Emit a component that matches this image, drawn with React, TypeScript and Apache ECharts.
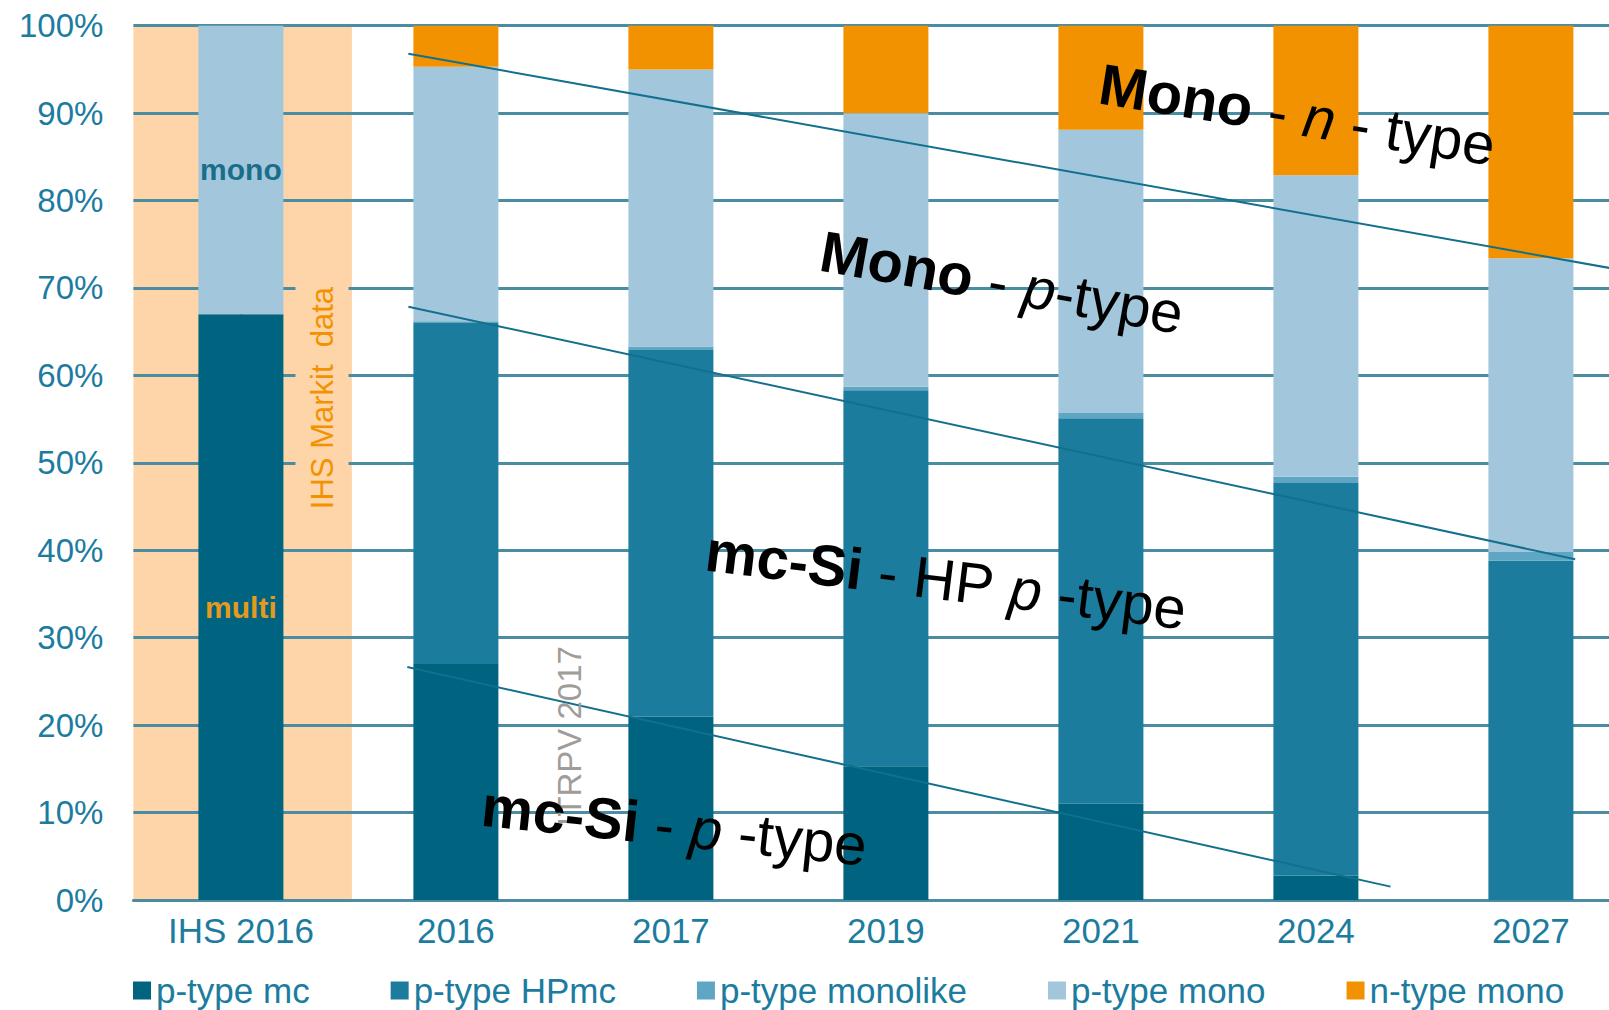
import React, { useEffect, useRef } from 'react';
import * as echarts from 'echarts';

const categories = ['IHS 2016', '2016', '2017', '2019', '2021', '2024', '2027'];
const pTypeMc = [67, 27, 21, 15.3, 11, 2.8, 0];
const pTypeHPmc = [0, 39, 41.9, 43, 44.1, 44.9, 38.8];
const pTypeMonolike = [0, 0.2, 0.4, 0.4, 0.6, 0.7, 1.0];
const pTypeMono = [33, 29.1, 31.7, 31.3, 32.4, 34.5, 33.6];
const nTypeMono = [0, 4.7, 5.0, 10.0, 11.9, 17.1, 26.6];
const ihsBackground = [100, null, null, null, null, null, null];
const ihsLabels = { mono: 'mono', multi: 'multi' };

// trend lines: [category position, percent]
const trendNType = [[0.779, 96.8], [6.5, 71.7]];
const trendPType = [[0.779, 67.85], [6.206, 38.97]];
const trendMcSi = [[0.774, 26.65], [5.347, 1.53]];

const FONT = '"Liberation Sans", Arial, sans-serif';
const TEAL_TEXT = '#1C7CA0';
const GRID_COLOR = '#4A8DA3';

const colors = {
  mc: '#00637F',
  hpmc: '#1B7C9D',
  monolike: '#5FA6C4',
  mono: '#A2C7DC',
  n: '#F39200',
  peach: '#FDD5A9',
};

const rich = {
  b: { fontWeight: 'bold', fontSize: 58, fontFamily: FONT, fill: '#000' },
  r: { fontSize: 58, fontFamily: FONT, fill: '#000' },
  i: { fontStyle: 'italic', fontSize: 58, fontFamily: FONT, fill: '#000' },
};

function bigText(x: number, y: number, deg: number, text: string) {
  return {
    type: 'text',
    x,
    y,
    rotation: (-deg * Math.PI) / 180,
    z: 10,
    style: {
      text,
      rich,
      align: 'left',
      verticalAlign: 'middle',
      fill: '#000',
      fontSize: 58,
      fontFamily: FONT,
    },
  };
}

export default function App() {
  const ref = useRef<HTMLDivElement>(null);

  useEffect(() => {
    if (!ref.current) return;
    const chart = echarts.init(ref.current, null, { renderer: 'svg' });

    const labelFor = (text: string, color: string) => ({
      show: true,
      position: 'inside',
      formatter: text,
      color,
      fontWeight: 'bold',
      fontSize: 30,
      fontFamily: FONT,
    });

    const mcData = pTypeMc.map((v, i) =>
      i === 0 ? { value: v, label: labelFor(ihsLabels.multi, '#E39A1E') } : v
    );
    const monoData = pTypeMono.map((v, i) =>
      i === 0 ? { value: v, label: labelFor(ihsLabels.mono, '#1A6E8A') } : v
    );

    const barCommon = {
      type: 'bar',
      stack: 'total',
      barWidth: 85,
      xAxisIndex: 0,
      yAxisIndex: 0,
      z: 2,
    };

    const lineCommon = {
      type: 'line',
      xAxisIndex: 2,
      yAxisIndex: 0,
      symbol: 'none',
      silent: true,
      z: 3,
      lineStyle: { color: '#12708E', width: 2 },
    };

    chart.setOption({
      animation: false,
      backgroundColor: '#fff',
      grid: {
        left: 133.4,
        top: 25.7,
        right: -29.4,
        bottom: 110,
        containLabel: false,
        outerBoundsMode: 'none',
      },
      legend: {
        data: ['p-type mc', 'p-type HPmc', 'p-type monolike', 'p-type mono', 'n-type mono'],
        left: 133,
        top: 973,
        padding: 0,
        icon: 'rect',
        itemWidth: 18,
        itemHeight: 18,
        itemGap: 81,
        textStyle: { fontSize: 35, color: TEAL_TEXT, fontFamily: FONT },
      },
      xAxis: [
        {
          type: 'category',
          data: categories,
          z: 1,
          axisLine: { show: true, lineStyle: { color: GRID_COLOR, width: 3 } },
          axisTick: { show: false },
          splitLine: { show: false },
          axisLabel: { fontSize: 35, color: TEAL_TEXT, fontFamily: FONT, margin: 13 },
        },
        { type: 'category', data: categories, show: false },
        { type: 'value', min: -0.5, max: 6.5, show: false },
      ],
      yAxis: {
        type: 'value',
        min: 0,
        max: 100,
        interval: 10,
        z: 1,
        axisLine: { show: true, lineStyle: { color: GRID_COLOR, width: 3 } },
        axisTick: { show: false },
        splitLine: { show: true, lineStyle: { color: GRID_COLOR, width: 3 } },
        axisLabel: {
          formatter: '{value}%',
          fontSize: 33,
          color: TEAL_TEXT,
          fontFamily: FONT,
          margin: 30,
        },
      },
      series: [
        {
          name: 'IHS background',
          type: 'bar',
          xAxisIndex: 1,
          yAxisIndex: 0,
          data: ihsBackground,
          barWidth: 222,
          silent: true,
          z: 0,
          itemStyle: { color: colors.peach },
        },
        { ...barCommon, name: 'p-type mc', data: mcData, itemStyle: { color: colors.mc } },
        { ...barCommon, name: 'p-type HPmc', data: pTypeHPmc, itemStyle: { color: colors.hpmc } },
        { ...barCommon, name: 'p-type monolike', data: pTypeMonolike, itemStyle: { color: colors.monolike } },
        { ...barCommon, name: 'p-type mono', data: monoData, itemStyle: { color: colors.mono } },
        { ...barCommon, name: 'n-type mono', data: nTypeMono, itemStyle: { color: colors.n } },
        { ...lineCommon, name: 'trend n', data: trendNType },
        { ...lineCommon, name: 'trend p', data: trendPType },
        { ...lineCommon, name: 'trend mc', data: trendMcSi },
      ],
      graphic: [
        {
          type: 'text',
          x: 322,
          y: 398,
          rotation: Math.PI / 2,
          z: 5,
          style: {
            text: 'IHS Markit  data',
            align: 'center',
            verticalAlign: 'middle',
            fontSize: 31,
            fontFamily: FONT,
            fill: '#F39200',
            backgroundColor: colors.peach,
            padding: [11, 4],
          },
        },
        {
          type: 'text',
          x: 569,
          y: 736,
          rotation: Math.PI / 2,
          z: 4,
          style: {
            text: 'ITRPV 2017',
            align: 'center',
            verticalAlign: 'middle',
            fontSize: 33,
            fontFamily: FONT,
            fill: '#A09C99',
          },
        },
        bigText(1100, 83, 9, '{b|Mono}{r| - }{i|n}{r| - type}'),
        bigText(821, 250, 10, '{b|Mono}{r| - }{i|p}{r|-type}'),
        bigText(706, 550, 7, '{b|mc-Si}{r| - HP }{i|p}{r| -type}'),
        bigText(482, 805, 6, '{b|mc-Si}{r| - }{i|p}{r| -type}'),
      ],
    });

    return () => chart.dispose();
  }, []);

  return (
    <div
      ref={ref}
      style={{ position: 'fixed', left: 0, top: 0, width: 1609, height: 1010, background: '#fff' }}
    />
  );
}
